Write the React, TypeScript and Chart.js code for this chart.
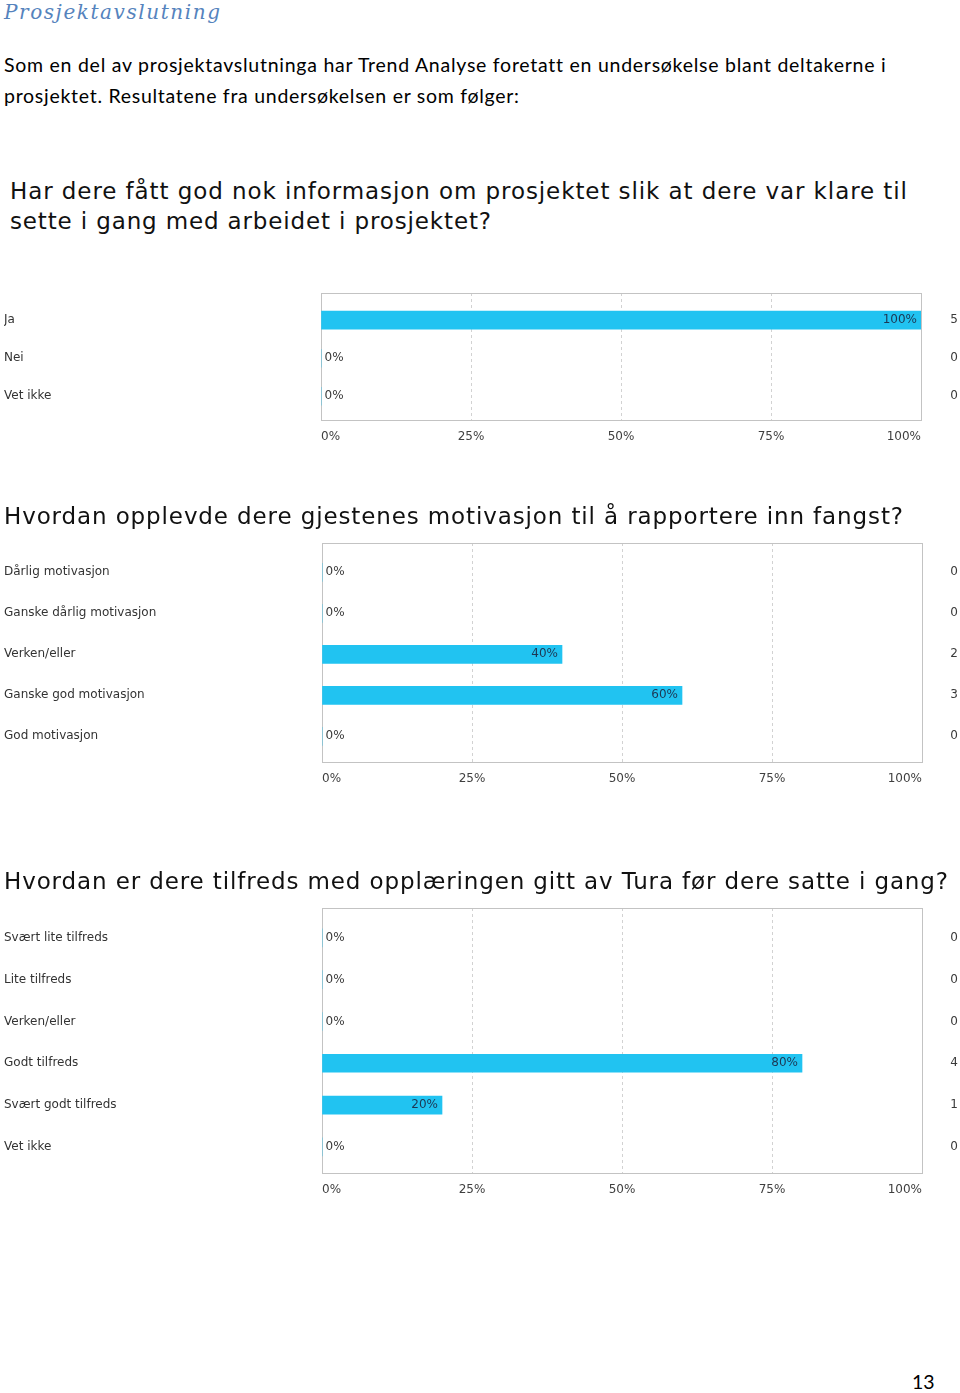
import React, { useEffect, useLayoutEffect, useRef } from 'react';
import { Chart, registerables } from 'chart.js';

Chart.register(...registerables);

// ---------- data ----------
const q1Categories = ['Ja', 'Nei', 'Vet ikke'];
const q1Percent = [100, 0, 0];
const q1Counts = [5, 0, 0];

const q2Categories = [
  'Dårlig motivasjon',
  'Ganske dårlig motivasjon',
  'Verken/eller',
  'Ganske god motivasjon',
  'God motivasjon',
];
const q2Percent = [0, 0, 40, 60, 0];
const q2Counts = [0, 0, 2, 3, 0];

const q3Categories = [
  'Svært lite tilfreds',
  'Lite tilfreds',
  'Verken/eller',
  'Godt tilfreds',
  'Svært godt tilfreds',
  'Vet ikke',
];
const q3Percent = [0, 0, 0, 80, 20, 0];
const q3Counts = [0, 0, 0, 4, 1, 0];

const xTicks = [0, 25, 50, 75, 100];

// ---------- text ----------
const pageTitle = 'Prosjektavslutning';
const introLine1 = 'Som en del av prosjektavslutninga har Trend Analyse foretatt en undersøkelse blant deltakerne i';
const introLine2 = 'prosjektet. Resultatene fra undersøkelsen er som følger:';
const q1Line1 = 'Har dere fått god nok informasjon om prosjektet slik at dere var klare til';
const q1Line2 = 'sette i gang med arbeidet i prosjektet?';
const q2Title = 'Hvordan opplevde dere gjestenes motivasjon til å rapportere inn fangst?';
const q3Title = 'Hvordan er dere tilfreds med opplæringen gitt av Tura før dere satte i gang?';
const pageNumber = '13';

const DEJAVU = '"DejaVu Sans", Verdana, sans-serif';
const LATO = 'Lato, "Open Sans", sans-serif';
const SERIF = '"DejaVu Serif", "Liberation Serif", serif';

type LineProps = {
  text: string;
  left: number;
  baseline: number;
  width?: number;
  family: string;
  size: number;
  ratio: number;
  color: string;
  italic?: boolean;
  clip?: number;
};

function TextLine({ text, left, baseline, width, family, size, ratio, color, italic, clip }: LineProps) {
  const ref = useRef<HTMLSpanElement>(null);
  useLayoutEffect(() => {
    const el = ref.current;
    if (!el || !width) return;
    const fit = () => {
      el.style.letterSpacing = '0px';
      const w = el.getBoundingClientRect().width;
      const n = Array.from(text).length;
      el.style.letterSpacing = (width - w) / Math.max(n - 1, 1) + 'px';
    };
    fit();
    const fonts: any = (document as any).fonts;
    if (fonts && fonts.ready) fonts.ready.then(fit);
  }, [text, width]);
  const top = baseline - size * ratio;
  const line = (
    <div
      style={{
        position: 'absolute',
        left,
        top,
        fontFamily: family,
        fontSize: size,
        lineHeight: size + 'px',
        fontStyle: italic ? 'italic' : 'normal',
        color,
        whiteSpace: 'nowrap',
      }}
    >
      <span ref={ref}>{text}</span>
    </div>
  );
  if (clip === undefined) return line;
  return (
    <div style={{ position: 'absolute', left: 0, top: 0, width: 960, height: clip, overflow: 'hidden' }}>
      {line}
    </div>
  );
}

// ---------- chart ----------
const PAD_TOP = 12;
const PAD_RIGHT = 2;
const X_AXIS_H = 30;
const ROW_PAD = 0.17;
const ROW_SHIFT = 0.045;

type ChartProps = {
  categories: string[];
  percent: number[];
  counts: number[];
  frameTop: number;
  frameBottom: number;
  plotLeft: number;
  plotRight: number;
};

function SurveyBar({ categories, percent, counts, frameTop, frameBottom, plotLeft, plotRight }: ChartProps) {
  const ref = useRef<HTMLCanvasElement>(null);
  const height = PAD_TOP + (frameBottom - frameTop) + X_AXIS_H;

  useEffect(() => {
    const canvas = ref.current;
    if (!canvas) return;
    const n = categories.length;
    const font = { family: DEJAVU, size: 12 };
    const yMin = -0.5 - ROW_PAD - ROW_SHIFT;
    const yMax = n - 0.5 + ROW_PAD - ROW_SHIFT;

    const framePlugin = {
      id: 'frame',
      beforeDatasetsDraw(chart: any) {
        const { left, top, right, bottom } = chart.chartArea;
        const c = chart.ctx;
        c.save();
        c.strokeStyle = '#c3c3c3';
        c.lineWidth = 1;
        c.strokeRect(left + 0.5, top + 0.5, right - left, bottom - top);
        c.restore();
      },
    };

    const valueLabels = {
      id: 'valueLabels',
      afterDatasetsDraw(chart: any) {
        const c = chart.ctx;
        const meta = chart.getDatasetMeta(0);
        const data = chart.data.datasets[0].data as any[];
        c.save();
        c.font = `12px ${DEJAVU}`;
        c.textBaseline = 'middle';
        meta.data.forEach((bar: any, i: number) => {
          const v = data[i].x;
          if (v > 0) {
            c.textAlign = 'right';
            c.fillStyle = '#1d3754';
            c.fillText(v + '%', bar.x - 4, bar.y);
          } else {
            c.textAlign = 'left';
            c.fillStyle = '#3a3a3a';
            c.fillText(v + '%', chart.chartArea.left + 3.5, bar.y);
          }
        });
        c.restore();
      },
    };

    const catTicks = (s: any) => {
      s.ticks = categories.map((_, i) => ({ value: i }));
    };

    const chart = new Chart(canvas, {
      type: 'bar',
      data: {
        datasets: [
          {
            data: percent.map((v, i) => ({ x: v, y: i })) as any,
            backgroundColor: '#21c3f1',
            borderWidth: 0,
            barThickness: 18,
          },
        ],
      },
      options: {
        indexAxis: 'y',
        responsive: false,
        animation: false,
        events: [],
        layout: { padding: { top: PAD_TOP, left: 4, right: PAD_RIGHT, bottom: 0 } },
        plugins: { legend: { display: false }, tooltip: { enabled: false } },
        scales: {
          x: {
            type: 'linear',
            min: 0,
            max: 100,
            offset: false,
            afterBuildTicks: (s: any) => {
              s.ticks = xTicks.map((v) => ({ value: v }));
            },
            afterFit: (s: any) => {
              s.height = X_AXIS_H;
            },
            ticks: {
              align: 'inner',
              padding: 9.5,
              color: '#3f3f3f',
              font,
              callback: (v: any) => v + '%',
            },
            grid: {
              drawTicks: false,
              offset: false,
              lineWidth: 1,
              color: (ctx: any) =>
                ctx.tick && ctx.tick.value > 0 && ctx.tick.value < 100 ? '#d2d2d2' : 'rgba(0,0,0,0)',
            },
            border: { display: false, dash: [3, 3] },
          },
          y: {
            type: 'linear',
            position: 'left',
            reverse: true,
            offset: false,
            min: yMin,
            max: yMax,
            afterBuildTicks: catTicks,
            afterFit: (s: any) => {
              s.width = plotLeft - 4;
            },
            ticks: {
              crossAlign: 'far',
              padding: 3,
              color: '#333333',
              font,
              callback: (_v: any, i: number) => categories[i],
            },
            grid: { display: false, drawTicks: false, offset: false },
            border: { display: false },
          },
          y2: {
            type: 'linear',
            position: 'right',
            reverse: true,
            offset: false,
            min: yMin,
            max: yMax,
            afterBuildTicks: catTicks,
            afterFit: (s: any) => {
              s.width = 960 - PAD_RIGHT - plotRight;
            },
            ticks: {
              crossAlign: 'far',
              padding: 3,
              color: '#3a3a3a',
              font,
              callback: (_v: any, i: number) => String(counts[i]),
            },
            grid: { display: false, drawTicks: false, offset: false },
            border: { display: false },
          },
        },
      } as any,
      plugins: [framePlugin, valueLabels],
    });
    return () => chart.destroy();
  }, [categories, percent, counts, plotLeft, plotRight, height]);

  return (
    <canvas
      ref={ref}
      width={960}
      height={height}
      style={{ position: 'absolute', left: 0, top: frameTop - PAD_TOP, width: 960, height }}
    />
  );
}

export default function App() {
  useEffect(() => {
    document.body.style.margin = '0';
    document.body.style.background = '#ffffff';
  }, []);

  return (
    <div
      style={{
        position: 'relative',
        width: 960,
        height: 1393,
        overflow: 'hidden',
        background: '#ffffff',
      }}
    >
      <TextLine text={pageTitle} left={4} baseline={19} width={216} family={SERIF} size={20} ratio={0.84} color="#5583bd" italic />
      <TextLine text={introLine1} left={4} baseline={72} width={881} family={LATO} size={19.5} ratio={0.887} color="#000000" />
      <TextLine text={introLine2} left={4} baseline={103.5} width={515} family={LATO} size={19.5} ratio={0.887} color="#000000" />

      <TextLine text={q1Line1} left={10} baseline={199} width={897} family={DEJAVU} size={23} ratio={0.846} color="#111111" />
      <TextLine text={q1Line2} left={10} baseline={229} width={481} family={DEJAVU} size={23} ratio={0.846} color="#111111" />
      <SurveyBar categories={q1Categories} percent={q1Percent} counts={q1Counts} frameTop={293} frameBottom={420} plotLeft={321} plotRight={921} />

      <TextLine text={q2Title} left={4} baseline={524} width={899} family={DEJAVU} size={23} ratio={0.846} color="#111111" clip={529} />
      <SurveyBar categories={q2Categories} percent={q2Percent} counts={q2Counts} frameTop={543} frameBottom={762} plotLeft={322} plotRight={922} />

      <TextLine text={q3Title} left={4} baseline={889} width={944} family={DEJAVU} size={23} ratio={0.846} color="#111111" clip={894} />
      <SurveyBar categories={q3Categories} percent={q3Percent} counts={q3Counts} frameTop={908} frameBottom={1173} plotLeft={322} plotRight={922} />

      <TextLine text={pageNumber} left={912} baseline={1389} family={LATO} size={19.5} ratio={0.887} color="#000000" />
    </div>
  );
}
